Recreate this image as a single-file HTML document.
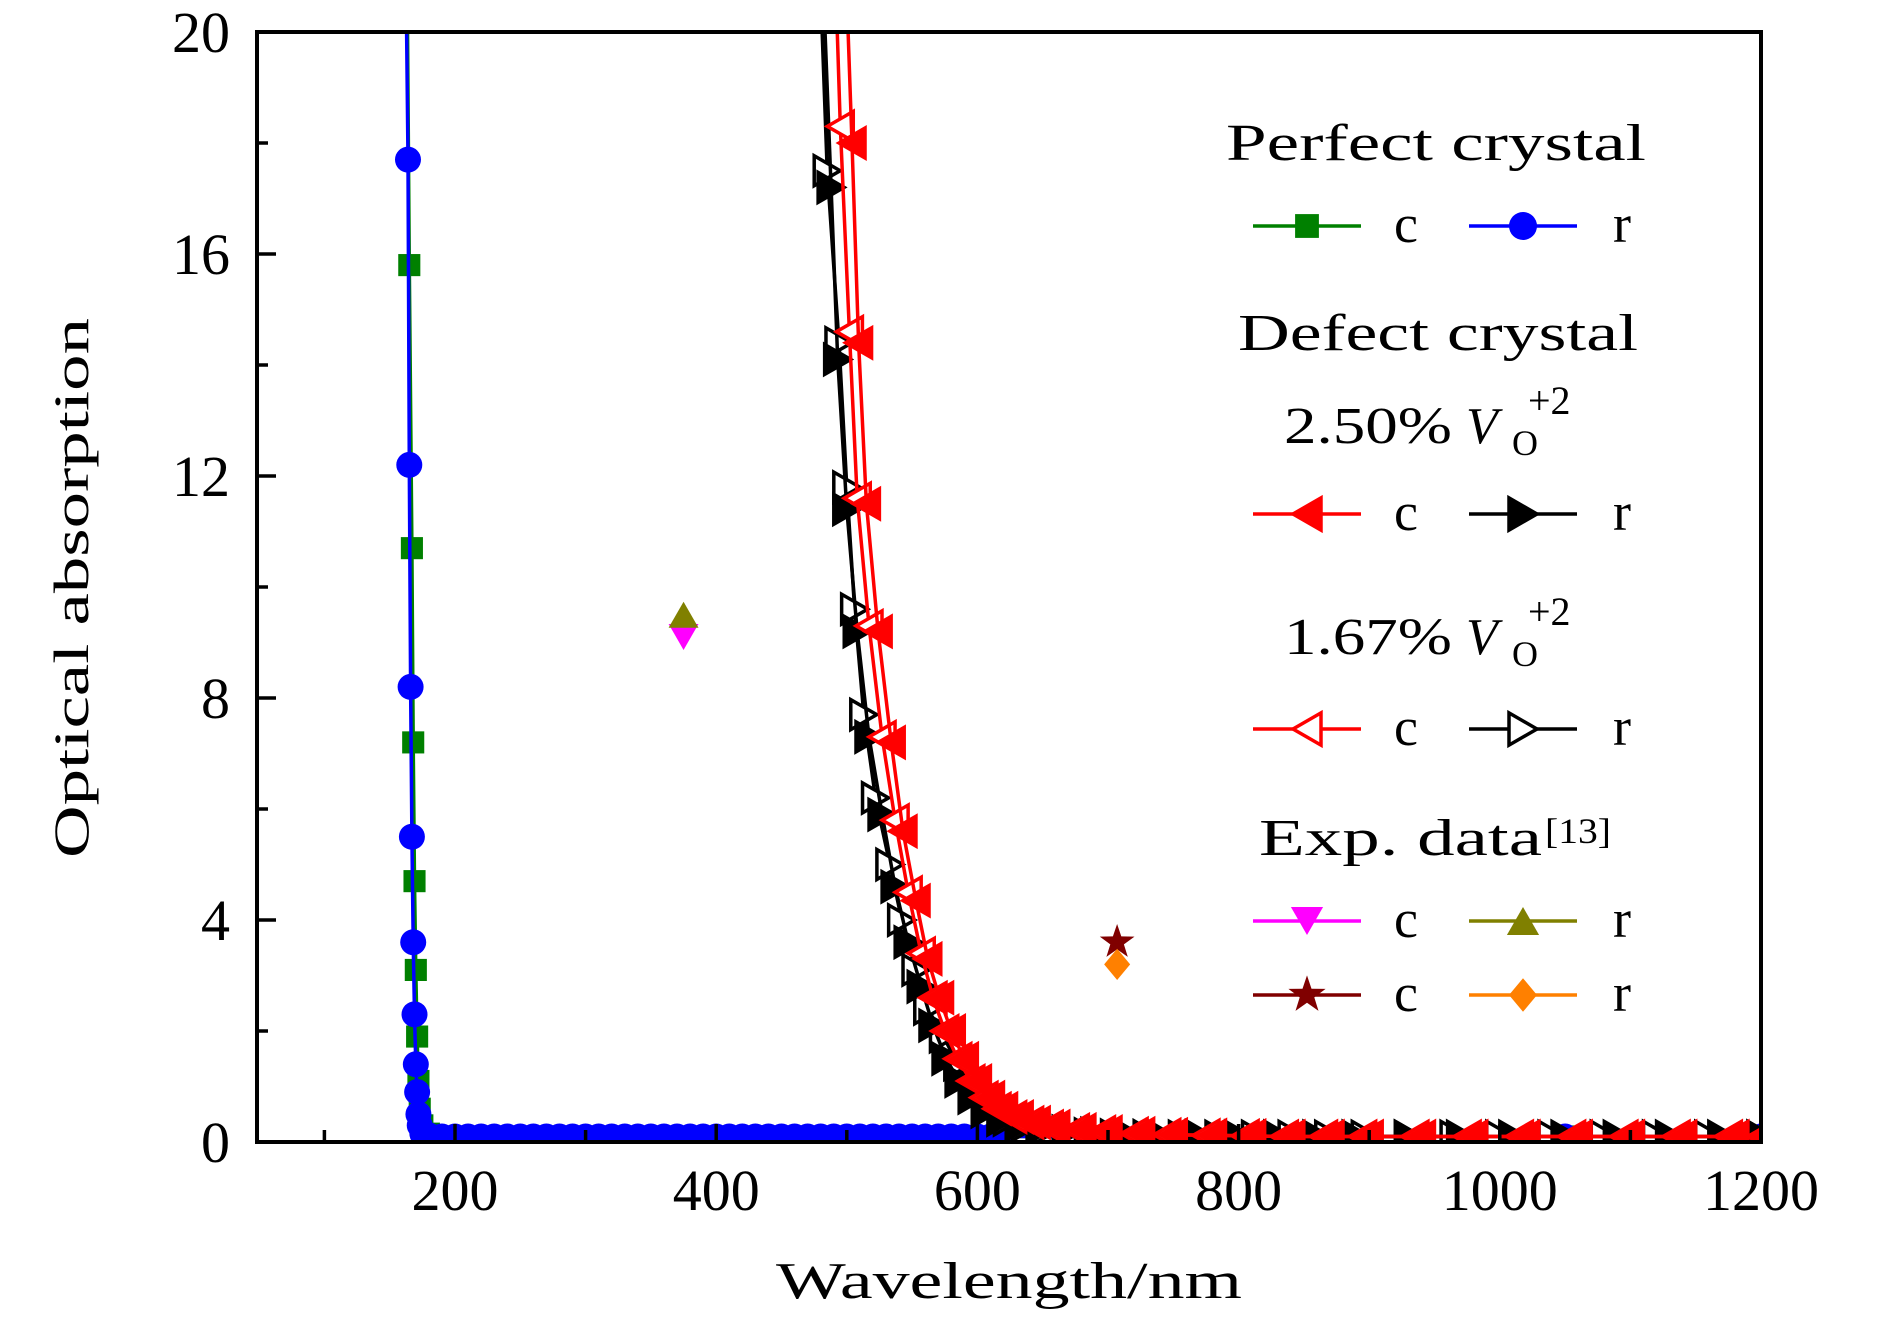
<!DOCTYPE html>
<html><head><meta charset="utf-8"><style>
html,body{margin:0;padding:0;background:#fff;}
svg{display:block;font-family:"Liberation Serif",serif;}
</style></head><body>
<svg id="chart" width="1890" height="1323" viewBox="0 0 1890 1323">
<defs><clipPath id="plotclip"><rect x="257" y="32" width="1504" height="1110"/></clipPath></defs>
<g id="series" clip-path="url(#plotclip)"></g>
<rect x="257" y="32" width="1504" height="1110" fill="none" stroke="#000" stroke-width="4"/>
<g id="axes"></g>
<text x="88" y="588" font-size="50" text-anchor="middle" transform="rotate(-90 88 588)" textLength="540" lengthAdjust="spacingAndGlyphs">Optical absorption</text>
<text x="1009" y="1298" font-size="52" text-anchor="middle" textLength="466" lengthAdjust="spacingAndGlyphs">Wavelength/nm</text>
<g id="legend" font-size="52">
<text x="1436" y="160" text-anchor="middle" textLength="420" lengthAdjust="spacingAndGlyphs">Perfect crystal</text>
<text x="1438" y="350" text-anchor="middle" textLength="400" lengthAdjust="spacingAndGlyphs">Defect crystal</text>
<text x="1284" y="443" textLength="168" lengthAdjust="spacingAndGlyphs">2.50%</text>
<text x="1466" y="443" font-style="italic">V</text>
<text x="1512" y="455" font-size="36">O</text>
<text x="1528" y="414" font-size="40">+2</text>
<text x="1284" y="654" textLength="168" lengthAdjust="spacingAndGlyphs">1.67%</text>
<text x="1466" y="654" font-style="italic">V</text>
<text x="1512" y="666" font-size="36">O</text>
<text x="1528" y="625" font-size="40">+2</text>
<text x="1259" y="855" textLength="283" lengthAdjust="spacingAndGlyphs">Exp. data</text>
<text x="1545" y="843" font-size="36" textLength="66" lengthAdjust="spacingAndGlyphs">[13]</text>
</g>
<script>
const X=v=>455+(v-200)*1.306, Y=v=>1142-v*55.5;
const ns="http://www.w3.org/2000/svg";
const xTicks=[200,400,600,800,1000,1200];
const xMinor=[100,300,500,700,900,1100];
const yTicks=[0,4,8,12,16,20];
const yMinor=[2,6,10,14,18];
// Perfect crystal
const pcX=[163,165,167,168,169,170,171,172,173,175,180,190,200,220,240,260,280,300,320,340,360,380,400,420,440,460,480,500,520,540,560,580,600,620,1050,1110,1200];
const pcY=[22,15.8,10.7,7.2,4.7,3.1,1.9,1.1,0.6,0.3,0.15,0.1,0.1,0.1,0.1,0.1,0.1,0.1,0.1,0.1,0.1,0.1,0.1,0.1,0.1,0.1,0.1,0.1,0.1,0.1,0.1,0.1,0.1,0.1,0.1,0.1,0.1];
const prX=[162,164,165,166,167,168,169,170,171,172,173,175,180,190,200,210,220,230,240,250,260,270,280,290,300,310,320,330,340,350,360,370,380,390,400,410,420,430,440,450,460,470,480,490,500,510,520,530,540,550,560,570,580,590,600,610,620,1050,1110,1200];
const prY=[22,17.7,12.2,8.2,5.5,3.6,2.3,1.4,0.9,0.5,0.3,0.15,0.12,0.1,0.1,0.1,0.1,0.1,0.1,0.1,0.1,0.1,0.1,0.1,0.1,0.1,0.1,0.1,0.1,0.1,0.1,0.1,0.1,0.1,0.1,0.1,0.1,0.1,0.1,0.1,0.1,0.1,0.1,0.1,0.1,0.1,0.1,0.1,0.1,0.1,0.1,0.1,0.1,0.1,0.1,0.1,0.1,0.1,0.1,0.1];
// Defect 2.50%
const d25cX=[498,504,509,515,524,534,543,553,562,571,580,590,600,610,620,632,645,660,680,700,725,750,780,810,840,870,900,940,980,1020,1060,1100,1140,1180,1200];
const d25cY=[22,18.0,14.4,11.5,9.2,7.2,5.6,4.35,3.3,2.6,2.0,1.5,1.1,0.8,0.6,0.45,0.35,0.28,0.22,0.18,0.15,0.13,0.12,0.11,0.1,0.1,0.1,0.1,0.1,0.1,0.1,0.1,0.1,0.1,0.1];
const d25rX=[480,488,493,500,508,517,527,537,547,557,566,576,586,596,606,618,632,648,668,690,715,740,770,800,830,860,890,930,970,1010,1050,1090,1130,1170,1200];
const d25rY=[22,17.2,14.1,11.4,9.2,7.3,5.9,4.6,3.6,2.8,2.1,1.5,1.1,0.8,0.55,0.4,0.3,0.24,0.19,0.15,0.13,0.12,0.11,0.1,0.1,0.1,0.1,0.1,0.1,0.1,0.1,0.1,0.1,0.1,0.1];
// Defect 1.67%
const d16cX=[490,495,502,508,517,527,537,547,557,566,575,585,595,605,615,627,640,655,675,695,720,745,775,805,835,865,895,935,975,1015,1055,1095,1135,1175,1200];
const d16cY=[22,18.3,14.6,11.6,9.3,7.3,5.8,4.5,3.4,2.6,2.0,1.5,1.1,0.8,0.6,0.45,0.35,0.28,0.22,0.18,0.15,0.13,0.12,0.11,0.1,0.1,0.1,0.1,0.1,0.1,0.1,0.1,0.1,0.1,0.1];
const d16rX=[478,485,494,500,506,513,522,533,542,553,562,574,585,597,610,623,637,652,668,685,705,730,757,785,813,841,869,897,930,965,1000,1040,1080,1120,1160,1200];
const d16rY=[22,17.5,14.4,11.8,9.6,7.7,6.2,5.0,4.0,3.1,2.4,1.9,1.4,0.9,0.65,0.4,0.3,0.22,0.17,0.14,0.12,0.11,0.1,0.1,0.1,0.1,0.1,0.1,0.1,0.1,0.1,0.1,0.1,0.1,0.1,0.1];
// Experimental
const expCX=[375,707], expCY=[9.1,3.6];
const expRX=[375,707], expRY=[9.5,3.2];

function el(tag,attrs,parent){const e=document.createElementNS(ns,tag);for(const k in attrs)e.setAttribute(k,attrs[k]);parent.appendChild(e);return e;}
function marker(type,cx,cy,color,parent,s){
  s=s||13;let e;
  const fill=type.startsWith("open")?"#fff":color;
  if(type==="square") e=el("rect",{x:cx-s*0.85,y:cy-s*0.85,width:s*1.7,height:s*1.7,fill:color},parent);
  else if(type==="circle") e=el("circle",{cx:cx,cy:cy,r:s,fill:color},parent);
  else if(type==="left"||type==="openleft") e=el("polygon",{points:`${cx-s},${cy} ${cx+s},${cy-s*1.15} ${cx+s},${cy+s*1.15}`,fill:fill,stroke:color,"stroke-width":3.5},parent);
  else if(type==="right"||type==="openright") e=el("polygon",{points:`${cx+s},${cy} ${cx-s},${cy-s*1.15} ${cx-s},${cy+s*1.15}`,fill:fill,stroke:color,"stroke-width":3.5},parent);
  else if(type==="down") e=el("polygon",{points:`${cx},${cy+s} ${cx-s*1.15},${cy-s} ${cx+s*1.15},${cy-s}`,fill:color},parent);
  else if(type==="up") e=el("polygon",{points:`${cx},${cy-s} ${cx-s*1.15},${cy+s} ${cx+s*1.15},${cy+s}`,fill:color},parent);
  else if(type==="diamond") e=el("polygon",{points:`${cx},${cy-s*1.2} ${cx+s},${cy} ${cx},${cy+s*1.2} ${cx-s},${cy}`,fill:color},parent);
  else if(type==="star"){let p=[];for(let i=0;i<10;i++){const r=i%2?s*0.55:s*1.4;const a=-Math.PI/2+i*Math.PI/5;p.push((cx+r*Math.cos(a)).toFixed(1)+","+(cy+r*Math.sin(a)).toFixed(1));}e=el("polygon",{points:p.join(" "),fill:color},parent);}
  
  
  return e;
}
const sg=document.getElementById("series");
function series(name,xs,ys,color,type,line){
  const g=el("g",{},sg);
  
  
  if(line){const p=el("polyline",{points:xs.map((x,i)=>X(x).toFixed(1)+","+Y(ys[i]).toFixed(1)).join(" "),fill:"none",stroke:color,"stroke-width":3.5},g);
    
    }
  xs.forEach((x,i)=>marker(type,X(x),Y(ys[i]),color,g));
}
series("perfect-c-series",pcX,pcY,"#008000","square",true);
series("perfect-r-series",prX,prY,"#0000ff","circle",true);
series("defect167-r-series",d16rX,d16rY,"#000","openright",true);
series("defect250-r-series",d25rX,d25rY,"#000","right",true);
series("defect167-c-series",d16cX,d16cY,"#ff0000","openleft",true);
series("defect250-c-series",d25cX,d25cY,"#ff0000","left",true);
const ec=el("g",{},sg);
marker("down",X(expCX[0]),Y(expCY[0]),"#ff00ff",ec);
marker("star",X(expCX[1]),Y(expCY[1]),"#800000",ec);
const er=el("g",{},sg);
marker("up",X(expRX[0]),Y(expRY[0]),"#808000",er);
marker("diamond",X(expRX[1]),Y(expRY[1]),"#ff8000",er);

const ax=document.getElementById("axes");
xTicks.forEach(v=>{const t=el("line",{x1:X(v),x2:X(v),y1:1142,y2:1124,stroke:"#000","stroke-width":3.5},ax);
  const l=el("text",{x:X(v),y:1210,"font-size":58,"text-anchor":"middle"},ax);l.textContent=v;});
xMinor.forEach(v=>{const t=el("line",{x1:X(v),x2:X(v),y1:1142,y2:1130,stroke:"#000","stroke-width":3.5},ax);});
yTicks.forEach(v=>{const t=el("line",{x1:257,x2:276,y1:Y(v),y2:Y(v),stroke:"#000","stroke-width":3.5},ax);
  const l=el("text",{x:230,y:Y(v)+20,"font-size":58,"text-anchor":"end"},ax);l.textContent=v;});
yMinor.forEach(v=>{const t=el("line",{x1:257,x2:268,y1:Y(v),y2:Y(v),stroke:"#000","stroke-width":3.5},ax);});

const lg=document.getElementById("legend");
function entry(name,x0,y,color,type,label){
  const g=el("g",{},lg);
  
  
  el("line",{x1:x0,x2:x0+108,y1:y,y2:y,stroke:color,"stroke-width":3.5},g);
  marker(type,x0+54,y,color,g,14);
  const t=el("text",{x:x0+153,y:y+16,"font-size":54,"text-anchor":"middle"},g);t.textContent=label;
}
entry("legend-perfect-c",1253,226,"#008000","square","c");
entry("legend-perfect-r",1469,226,"#0000ff","circle","r");
entry("legend-250-c",1253,514,"#ff0000","left","c");
entry("legend-250-r",1469,514,"#000","right","r");
entry("legend-167-c",1253,729,"#ff0000","openleft","c");
entry("legend-167-r",1469,729,"#000","openright","r");
entry("legend-exp-c1",1253,921,"#ff00ff","down","c");
entry("legend-exp-r1",1469,921,"#808000","up","r");
entry("legend-exp-c2",1253,995,"#800000","star","c");
entry("legend-exp-r2",1469,995,"#ff8000","diamond","r");
</script>
</svg>
</body></html>
